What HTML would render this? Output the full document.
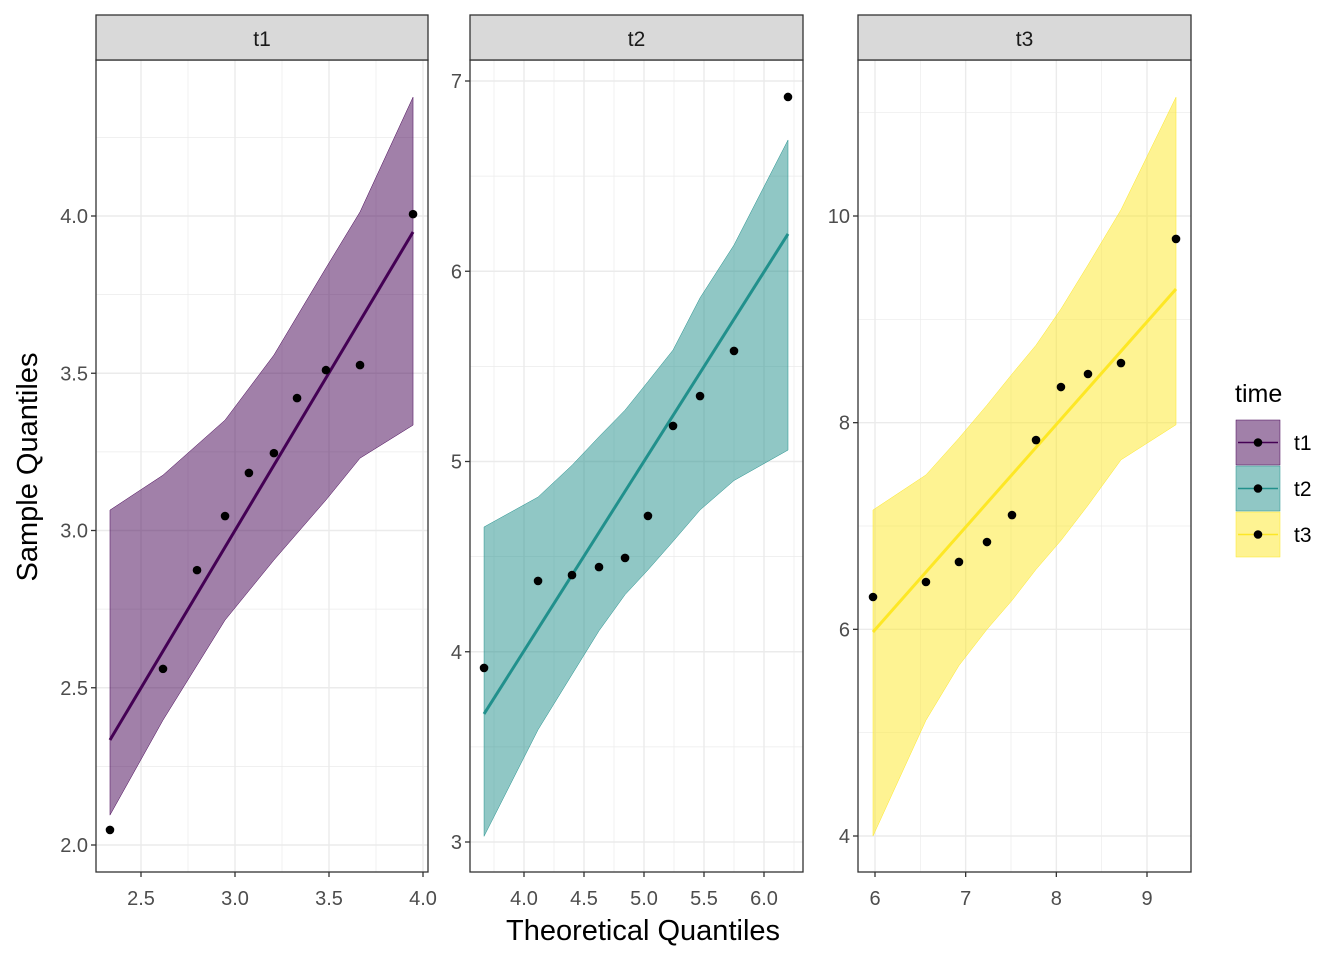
<!DOCTYPE html>
<html><head><meta charset="utf-8"><style>
body{margin:0;background:#fff}
svg{display:block;font-family:"Liberation Sans",sans-serif}
</style></head><body>
<svg id="c" width="1344" height="960"></svg>
<script>
// t1 data
const t1X=[2.335,2.617,2.798,2.947,3.074,3.207,3.33,3.484,3.665,3.947];
const t1Y=[2.048,2.56,2.874,3.046,3.183,3.246,3.421,3.51,3.526,4.006];
const t1LineY=[2.334,3.949];
const t1BandX=[2.335,2.617,2.947,3.207,3.484,3.665,3.947];
const t1Upper=[3.065,3.176,3.351,3.558,3.835,4.013,4.378];
const t1Lower=[2.095,2.397,2.715,2.906,3.097,3.23,3.335];
const t1XTicks=[2.5,3.0,3.5,4.0];
const t1YTicks=[2.0,2.5,3.0,3.5,4.0];
// t2 data
const t2X=[3.667,4.117,4.4,4.625,4.842,5.033,5.242,5.467,5.75,6.2];
const t2Y=[3.915,4.372,4.403,4.445,4.493,4.714,5.187,5.344,5.581,6.916];
const t2LineY=[3.673,6.196];
const t2BandX=[3.667,4.117,4.4,4.625,4.842,5.033,5.242,5.467,5.75,6.2];
const t2Upper=[4.656,4.813,4.98,5.13,5.27,5.42,5.586,5.86,6.138,6.69];
const t2Lower=[3.03,3.59,3.88,4.11,4.30,4.43,4.58,4.745,4.9,5.06];
const t2XTicks=[4.0,4.5,5.0,5.5,6.0];
const t2YTicks=[3,4,5,6,7];
// t3 data
const t3X=[5.978,6.562,6.926,7.235,7.511,7.776,8.051,8.349,8.713,9.32];
const t3Y=[6.313,6.458,6.652,6.845,7.106,7.832,8.345,8.471,8.577,9.778];
const t3LineY=[5.974,9.294];
const t3BandX=[5.978,6.562,6.926,7.235,7.511,7.776,8.051,8.349,8.713,9.32];
const t3Upper=[7.155,7.494,7.85,8.17,8.47,8.75,9.10,9.526,10.06,11.15];
const t3Lower=[4.0,5.12,5.65,6.0,6.28,6.58,6.86,7.2,7.64,7.98];
const t3XTicks=[6,7,8,9];
const t3YTicks=[4,6,8,10];

const NS="http://www.w3.org/2000/svg";
const svg=document.getElementById('c');
function mk(tag,attrs,parent){const e=document.createElementNS(NS,tag);for(const k in attrs)e.setAttribute(k,attrs[k]);(parent||svg).appendChild(e);return e;}
const pTop=60,pBot=872;
const panels=[
 {name:'t1',x0:96,x1:428,xs:[2.5,141,4.0,423],ys:[2.0,845,4.0,216],X:t1X,Y:t1Y,LY:t1LineY,BX:t1BandX,U:t1Upper,L:t1Lower,xt:t1XTicks,yt:t1YTicks,col:'#440154',fx:1,fy:1},
 {name:'t2',x0:470,x1:803,xs:[4.0,524,6.0,764],ys:[3,842,7,81],X:t2X,Y:t2Y,LY:t2LineY,BX:t2BandX,U:t2Upper,L:t2Lower,xt:t2XTicks,yt:t2YTicks,col:'#21908C',fx:1,fy:0},
 {name:'t3',x0:858,x1:1191,xs:[6,875,9,1147],ys:[4,836,10,216],X:t3X,Y:t3Y,LY:t3LineY,BX:t3BandX,U:t3Upper,L:t3Lower,xt:t3XTicks,yt:t3YTicks,col:'#FDE725',fx:0,fy:0}
];
panels.forEach((p,pi)=>{
 const sx=v=>p.xs[1]+(v-p.xs[0])*(p.xs[3]-p.xs[1])/(p.xs[2]-p.xs[0]);
 const sy=v=>p.ys[1]+(v-p.ys[0])*(p.ys[3]-p.ys[1])/(p.ys[2]-p.ys[0]);
 const g=mk('g',{});
 
 
 mk('rect',{x:p.x0,y:pTop,width:p.x1-p.x0,height:pBot-pTop,fill:'#fff'},g);
 const xstep=p.xt[1]-p.xt[0], ystep=p.yt[1]-p.yt[0];
 for(let v=p.xt[0]-xstep/2;v<=p.xt[p.xt.length-1]+xstep;v+=xstep/2){const x=sx(v);if(x>p.x0&&x<p.x1){const major=p.xt.some(t=>Math.abs(t-v)<1e-9);mk('line',{x1:x,x2:x,y1:pTop,y2:pBot,stroke:'#EBEBEB','stroke-width':major?1.4:0.7},g);}}
 for(let v=p.yt[0]-ystep;v<=p.yt[p.yt.length-1]+ystep;v+=ystep/2){const y=sy(v);if(y>pTop&&y<pBot){const major=p.yt.some(t=>Math.abs(t-v)<1e-9);mk('line',{x1:p.x0,x2:p.x1,y1:y,y2:y,stroke:'#EBEBEB','stroke-width':major?1.4:0.7},g);}}
 let d='M'+p.BX.map((v,i)=>sx(v)+','+sy(p.U[i])).join('L');
 d+='L'+p.BX.slice().reverse().map((v,i)=>sx(v)+','+sy(p.L[p.L.length-1-i])).join('L')+'Z';
 const band=mk('path',{d:d,fill:p.col,'fill-opacity':0.5,stroke:p.col,'stroke-width':0.5},g);
 
 
 const ln=mk('line',{x1:sx(p.X[0]),x2:sx(p.X[p.X.length-1]),y1:sy(p.LY[0]),y2:sy(p.LY[1]),stroke:p.col,'stroke-width':3},g);
 
 
 p.X.forEach((v,i)=>{const c=mk('circle',{cx:sx(v),cy:sy(p.Y[i]),r:4.3,fill:'#000'},g);
  
  });
 mk('rect',{x:p.x0,y:pTop,width:p.x1-p.x0,height:pBot-pTop,fill:'none',stroke:'#333','stroke-width':1.3},g);
 mk('rect',{x:p.x0,y:15,width:p.x1-p.x0,height:45,fill:'#D9D9D9',stroke:'#333','stroke-width':1.3},g);
 const st=mk('text',{x:(p.x0+p.x1)/2,y:46,'text-anchor':'middle','font-size':21,fill:'#1A1A1A'},g);
 st.textContent=p.name;
 
 
 p.xt.forEach(v=>{const x=sx(v);mk('line',{x1:x,x2:x,y1:pBot,y2:pBot+5,stroke:'#333','stroke-width':1.3},g);
  const t=mk('text',{x:x,y:pBot+33,'text-anchor':'middle','font-size':20,fill:'#4D4D4D'},g);t.textContent=v.toFixed(p.fx);
  
  });
 p.yt.forEach(v=>{const y=sy(v);mk('line',{x1:p.x0-5,x2:p.x0,y1:y,y2:y,stroke:'#333','stroke-width':1.3},g);
  const t=mk('text',{x:p.x0-8,y:y+7,'text-anchor':'end','font-size':20,fill:'#4D4D4D'},g);t.textContent=v.toFixed(p.fy);
  
  });
});
let t=mk('text',{x:643,y:940,'text-anchor':'middle','font-size':29,fill:'#000'});t.textContent='Theoretical Quantiles';


t=mk('text',{x:37,y:467,'text-anchor':'middle','font-size':29,fill:'#000',transform:'rotate(-90 37 467)'});t.textContent='Sample Quantiles';


t=mk('text',{x:1235,y:402,'font-size':25,fill:'#000'});t.textContent='time';


panels.forEach((p,i)=>{const y=420+i*46;
 const g=mk('g',{});
 
 
 mk('rect',{x:1236,y:y,width:44,height:45,fill:'#fff'},g);
 mk('rect',{x:1236,y:y,width:44,height:45,fill:p.col,'fill-opacity':0.5,stroke:p.col,'stroke-width':0.5},g);
 mk('line',{x1:1238,x2:1278,y1:y+22.5,y2:y+22.5,stroke:p.col,'stroke-width':1.5},g);
 mk('circle',{cx:1258,cy:y+22.5,r:4.3,fill:'#000'},g);
 const l=mk('text',{x:1294,y:y+30,'font-size':21,fill:'#000'},g);l.textContent=p.name;
});
</script>
</body></html>
